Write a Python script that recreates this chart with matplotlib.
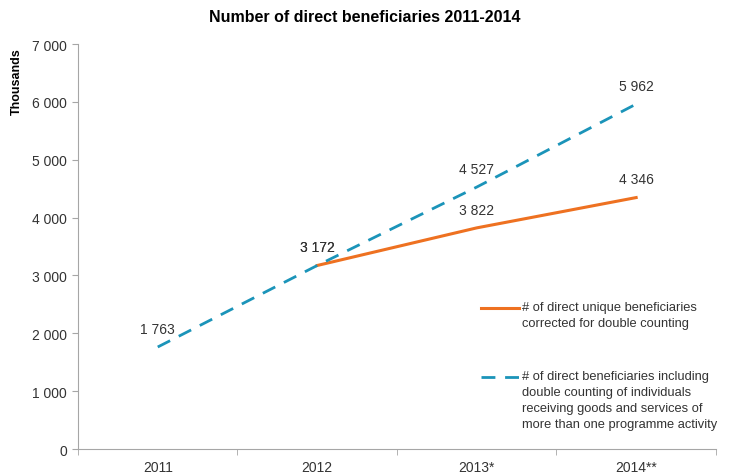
import matplotlib.pyplot as plt
import numpy as np
from matplotlib.lines import Line2D

years = ["2011", "2012", "2013*", "2014**"]
unique = [np.nan, 3172, 3822, 4346]
incl_double = [1763, 3172, 4527, 5962]
lab_unique = "# of direct unique beneficiaries\ncorrected for double counting"
lab_double = ("# of direct beneficiaries including\ndouble counting of individuals\n"
              "receiving goods and services of\nmore than one programme activity")

orange = "#EE7121"
blue = "#1B94B9"
grey = "#A6A6A6"
txt = "#333333"

plt.rcParams['font.family'] = ['Liberation Sans', 'DejaVu Sans']

def fmt(v):
    return "{:,.0f}".format(v).replace(",", " ")

fig = plt.figure(figsize=(7.29, 4.77), dpi=100)
ax = fig.add_axes([0.107, 0.0566, 0.875, 0.849])
x = np.arange(len(years))

ax.plot(x, unique, color=orange, lw=2.2)
ax.plot(x, incl_double, color=blue, lw=2.0, linestyle=(0, (5, 3.5)))

for xi, v in zip(x, incl_double):
    ax.annotate(fmt(v), (xi, v), xytext=(0, 8), textcoords="offset points",
                ha="center", va="bottom", fontsize=10, color=txt)
for xi, v in zip(x, unique):
    if not np.isnan(v):
        ax.annotate(fmt(v), (xi, v), xytext=(0, 8), textcoords="offset points",
                    ha="center", va="bottom", fontsize=10, color=txt)

ax.set_xlim(-0.5, 3.5)
ax.set_ylim(0, 7000)
ax.set_yticks(range(0, 7001, 1000))
ax.set_yticklabels([fmt(v) for v in range(0, 7001, 1000)], fontsize=10, color=txt)
ax.set_xticks(x)
ax.set_xticklabels(years, fontsize=10, color=txt)
ax.set_xticks(np.arange(-0.5, 4.0, 1.0), minor=True)
ax.tick_params(axis="x", which="major", length=0, pad=8)
ax.tick_params(axis="x", which="minor", length=4, color=grey)
ax.tick_params(axis="y", length=4, color=grey, pad=4)

for s in ["top", "right"]:
    ax.spines[s].set_visible(False)
for s in ["left", "bottom"]:
    ax.spines[s].set_color(grey)

ax.set_ylabel("Thousands", fontsize=9, fontweight="bold")
ax.yaxis.set_label_coords(-0.086, 0.91)

fig.text(0.5, 0.963, "Number of direct beneficiaries 2011-2014", ha="center",
         va="center", fontsize=11.5, fontweight="bold")

# legend drawn by hand so the handle sits on the first text line
W, H = 729.0, 477.0
entries = [(orange, "-", 309, lab_unique), (blue, (0, (5, 3.5)), 378, lab_double)]
for c, ls, ypx, lab in entries:
    yf = 1 - ypx / H
    fig.add_artist(Line2D([481 / W, 519 / W], [yf, yf], color=c, lw=2.2 if ls == "-" else 2.0,
                          linestyle=ls, transform=fig.transFigure))
    fig.text(522 / W, yf + 7 / H, lab, ha="left", va="top", fontsize=9.3,
             color=txt, linespacing=1.45)

fig.savefig("out.png", dpi=100)
